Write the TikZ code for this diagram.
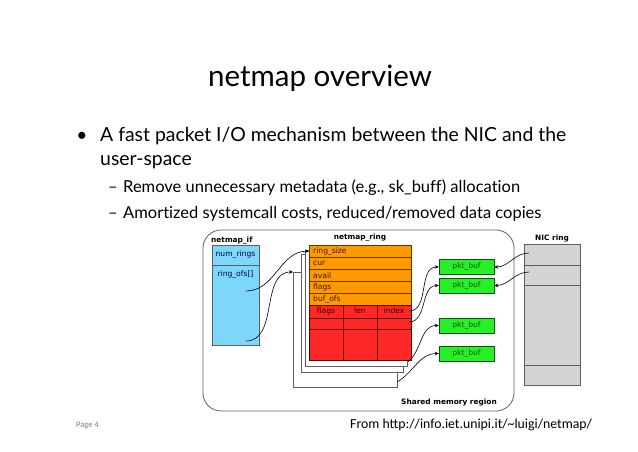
\documentclass[tikz,border=0pt]{standalone}
\usepackage{fontspec}
\setmainfont{Lato}[Ligatures=NoCommon]
\newfontfamily\figfont{DejaVu Sans}
\newfontfamily\footfont{Carlito}
\usetikzlibrary{arrows.meta}
\definecolor{ifblue}{RGB}{125,215,250}
\definecolor{ringorange}{RGB}{255,153,0}
\definecolor{slotred}{RGB}{255,40,40}
\definecolor{bufgreen}{RGB}{40,240,40}
\definecolor{nicgray}{RGB}{212,212,212}
\definecolor{edgegray}{RGB}{95,95,95}
\begin{document}
\begin{tikzpicture}[x=1pt,y=-1pt,
  lbl/.style={font=\figfont\bfseries\fontsize{7.4}{8}\selectfont, inner sep=0pt},
  fld/.style={font=\figfont\fontsize{7.6}{8}\selectfont, inner sep=0pt},
  line/.style={anchor=base west, inner sep=0pt},
  pbuf/.style={draw=green!35!black, fill=bufgreen, minimum width=55pt, minimum height=15pt, inner sep=0pt, text=green!35!black, font=\figfont\fontsize{7.6}{8}\selectfont},
  ptr/.style={-{Stealth[length=4pt,width=3.5pt]}, line width=0.6pt}]
\useasboundingbox (0,0) rectangle (638,451);

\node[anchor=base, font=\fontsize{29.5}{34}\selectfont] (title) at (320,86) {netmap overview};
\node[anchor=base, font=\fontsize{19}{23}\selectfont] (dot) at (82,141) {\textbullet};
\node[line, font=\fontsize{19.4}{23}\selectfont] (b1) at (100,141) {A fast packet I/O mechanism between the NIC and the};
\node[line, font=\fontsize{19.4}{23}\selectfont] (b2) at (100,165) {user-space};
\foreach \y [count=\i] in {192,218}
  \node[line, font=\fontsize{16.5}{19}\selectfont] (dash\i) at (108,\y) {--};
\node[line, font=\fontsize{16.5}{19}\selectfont] (sub1) at (123,192) {Remove unnecessary metadata (e.g., sk\_buff) allocation};
\node[line, font=\fontsize{16.5}{19}\selectfont] (sub2) at (123,218) {Amortized systemcall costs, reduced/removed data copies};

\draw[edgegray, line width=0.8pt, rounded corners=18pt] (203,230) rectangle (514,411);
\node[lbl, anchor=base east] (shm) at (497,404) {Shared memory region};

\node[lbl, anchor=base west] (iflbl) at (211,242) {netmap\_if};
\node[draw=edgegray, fill=ifblue, minimum width=47pt, minimum height=100pt, inner sep=0pt, anchor=north west] (nif) at (212,245) {};
\draw[edgegray] (212,265) -- (259,265);
\node[fld, text=blue!30!black] (nrings) at (235.5,255) {num\_rings};
\node[fld, text=blue!30!black] (rofs) at (235.5,275) {ring\_ofs[]};
\coordinate (o1) at (246,291);
\coordinate (o2) at (246,341);

\node[lbl] (ringlbl) at (360,238) {netmap\_ring};
\draw[edgegray, fill=white] (293,272) rectangle (397,387);
\draw[edgegray, fill=white] (301,254) rectangle (403,372);
\draw[edgegray, fill=white] (305,250) rectangle (407,366);
\coordinate (ring3) at (293,272);
\foreach \t [count=\i] in {ring\_size,cur,avail,flags,buf\_ofs}
  \node[draw=orange!40!black, fill=ringorange, minimum width=102pt, minimum height=12pt, inner sep=0pt,
    anchor=north west, text width=94pt, align=left, font=\figfont\fontsize{7.6}{8}\selectfont, text=orange!20!black]
    (row\i) at (309,{233+12*\i}) {\t};
\draw[draw=red!35!black, fill=slotred] (309,305) rectangle (411,360);
\draw[red!35!black] (309,318) -- (411,318) (309,329) -- (411,329) (343,305) -- (343,360) (377,305) -- (377,360);
\foreach \t/\x in {flags/326,len/360,index/394}
  \node[fld, text=red!25!black] (h\t) at (\x,311) {\t};
\coordinate (s1) at (409,311);
\coordinate (s2) at (409,322);
\coordinate (s3) at (408,362);
\coordinate (s4) at (397,382);

\foreach \y [count=\i] in {267,285.5,325.5,353.5}
  \node[pbuf] (buf\i) at (466.5,\y) {pkt\_buf};

\node[lbl] (niclbl) at (552,238) {NIC ring};
\node[draw=edgegray, fill=nicgray, minimum width=56pt, minimum height=141pt, inner sep=0pt, anchor=north west] (nic) at (524,244) {};
\foreach \y in {265,285,365}
  \draw[edgegray] (524,\y) -- (580,\y);
\coordinate (n1) at (529,253);
\coordinate (n2) at (529,272);

\draw[ptr] (o1) to[out=0,in=180] (row1.west);
\draw[ptr] (o2) to[out=0,in=180] (ring3);
\draw[ptr] (s1) to[out=0,in=180] (buf1.west);
\draw[ptr] (s2) to[out=0,in=180] (buf2.west);
\draw[ptr] (s3) to[out=40,in=180] (buf3.west);
\draw[ptr] (s4) to[out=30,in=180] (buf4.west);
\draw[ptr] (n1) to[out=180,in=0] (buf1.east);
\draw[ptr] (n2) to[out=180,in=0] (buf2.east);

\node[line, font=\footfont\fontsize{8.5}{9}\selectfont, text=gray] (page) at (76,427) {Page 4};
\node[line, font=\footfont\fontsize{13.8}{16}\selectfont] (src) at (350,428) {From http://info.iet.unipi.it/\textasciitilde luigi/netmap/};
\end{tikzpicture}
\end{document}
